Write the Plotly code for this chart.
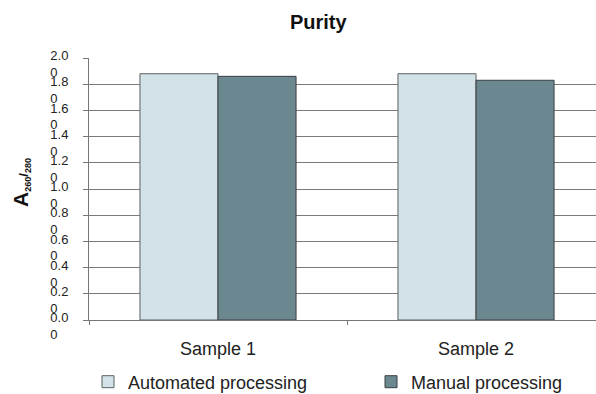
import plotly.graph_objects as go

categories = ["Sample 1", "Sample 2"]
automated = [1.88, 1.88]
manual = [1.86, 1.83]
tick_vals = [0.0, 0.2, 0.4, 0.6, 0.8, 1.0, 1.2, 1.4, 1.6, 1.8, 2.0]
tick_text = ["%.1f<br>0\u00a0\u00a0\u00a0" % v for v in tick_vals]

FONT = "Liberation Sans, Arial, sans-serif"

fig = go.Figure()
fig.add_trace(go.Bar(
    x=categories, y=automated, name="Automated processing", legend="legend",
    marker=dict(color="#d2e2e7", line=dict(color="#5a5f61", width=1)),
))
fig.add_trace(go.Bar(
    x=categories, y=manual, name="Manual processing", legend="legend2",
    marker=dict(color="#6b8891", line=dict(color="#3a3f41", width=1)),
))

legend_common = dict(orientation="h", xanchor="left", yanchor="middle",
                     xref="container", yref="container",
                     font=dict(size=18, family=FONT, color="#222222"),
                     itemclick=False, bgcolor="rgba(0,0,0,0)")

fig.update_layout(
    width=596, height=394,
    margin=dict(l=89, r=0, t=58, b=74, autoexpand=False),
    paper_bgcolor="white", plot_bgcolor="white",
    barmode="group", bargap=0.395, bargroupgap=0,
    font=dict(family=FONT, color="#222222"),
    title=dict(text="<b>Purity</b>", x=0.534, xanchor="center",
               y=1 - 22 / 394, yanchor="middle", yref="container",
               font=dict(size=20, family=FONT, color="#111111")),
    showlegend=True,
    legend=dict(x=88 / 596, y=1 - 382 / 394, **legend_common),
    legend2=dict(x=371 / 596, y=1 - 382 / 394, **legend_common),
    xaxis=dict(
        type="category", range=[-0.5, 1.465],
        showline=True, linecolor="#777777", linewidth=1,
        ticks="outside", tickson="boundaries", ticklen=4, tickcolor="#777777",
        tickfont=dict(size=18, family=FONT, color="#222222"),
        ticklabelstandoff=12, automargin=False,
        showgrid=False,
    ),
    yaxis=dict(
        range=[0, 2.0], tickvals=tick_vals, ticktext=tick_text,
        showline=True, linecolor="#777777", linewidth=1,
        ticks="outside", ticklen=5, tickcolor="#777777",
        tickfont=dict(size=13, family=FONT, color="#222222"),
        ticklabelstandoff=12, ticklabelshift=6, automargin=False,
        showgrid=True, gridcolor="#7a7a7a", gridwidth=1,
        zeroline=False,
    ),
    annotations=[dict(
        text="<b><span style=\"font-size:21px\">A</span><sub>260</sub>/<sub>280</sub></b>",
        xref="paper", yref="paper", x=-0.134, y=0.523,
        xanchor="center", yanchor="middle", textangle=-90, showarrow=False,
        font=dict(size=13, family=FONT, color="#111111"),
    )],
)

fig.write_html("out.html")
